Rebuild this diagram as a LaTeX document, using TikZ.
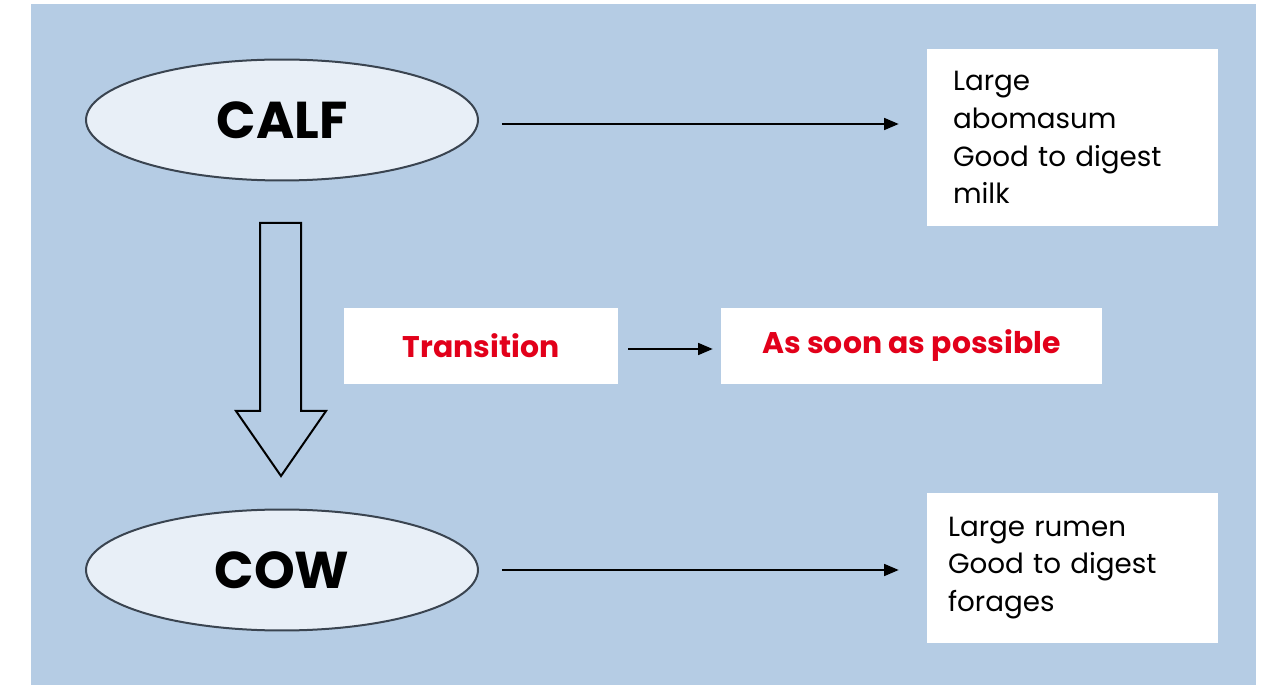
\documentclass[tikz,border=0pt]{standalone}
\usepackage{fontspec}
\setmainfont{Poppins}
\usetikzlibrary{shapes.geometric, arrows.meta}
\definecolor{bgblue}{HTML}{B5CCE4}
\definecolor{lightfill}{HTML}{E8EFF7}
\definecolor{ringgray}{HTML}{3A4450}
\definecolor{alertred}{HTML}{E2001A}
\tikzstyle{animal} = [ellipse, minimum width=7.84cm, minimum height=2.42cm, inner sep=0, draw=ringgray, line width=0.04cm, fill=lightfill, font=\fontsize{29.5}{34}\selectfont\bfseries]
\tikzstyle{notebox} = [rectangle, fill=white, minimum width=5.82cm, align=left, font=\fontsize{15.8}{21.5}\selectfont]
\tikzstyle{redbox} = [rectangle, fill=white, minimum height=1.52cm, text=alertred, font=\fontsize{17}{20}\selectfont\bfseries]
\tikzstyle{arrow} = [thick,-{Triangle[length=0.29cm,width=0.24cm]}]

\begin{document}
\begin{tikzpicture}[x=0.02cm,y=-0.02cm]
\useasboundingbox (0,0) rectangle (1267,685);
\fill[bgblue] (31,4) rectangle (1256,685);
% animals
\node[animal] (calf) at (282,120) {CALF};
\node[animal] (cow) at (282,570) {COW};
% stomach notes
\node[notebox, minimum height=3.54cm, text width=4.78cm] (milknote) at (1072.5,137.5) {Large\\abomasum\\Good to digest\\milk};
\node[notebox, minimum height=3cm, text width=4.98cm] (foragenote) at (1072.5,568) {Large rumen\\Good to digest\\forages};
% transition
\node[redbox, minimum width=5.48cm] (transition) at (481,346) {Transition};
\node[redbox, minimum width=7.62cm] (asap) at (911.5,346) {As soon as possible};
% connectors
\draw[arrow, shorten <=0.46cm, shorten >=0.56cm] ([yshift=-0.08cm]calf.east) -- ([yshift=-0.08cm]calf.east -| milknote.west);
\draw[arrow, shorten <=0.46cm, shorten >=0.56cm] (cow.east) -- (cow.east -| foragenote.west);
\draw[arrow, shorten <=0.2cm, shorten >=0.16cm] ([yshift=-0.06cm]transition.east) -- ([yshift=-0.06cm]asap.west);
% big arrow
\draw[line width=0.04cm] (260,223) -- (301,223) -- (301,411) -- (326,411) -- (281,476) -- (236,411) -- (260,411) -- cycle;
\end{tikzpicture}
\end{document}
